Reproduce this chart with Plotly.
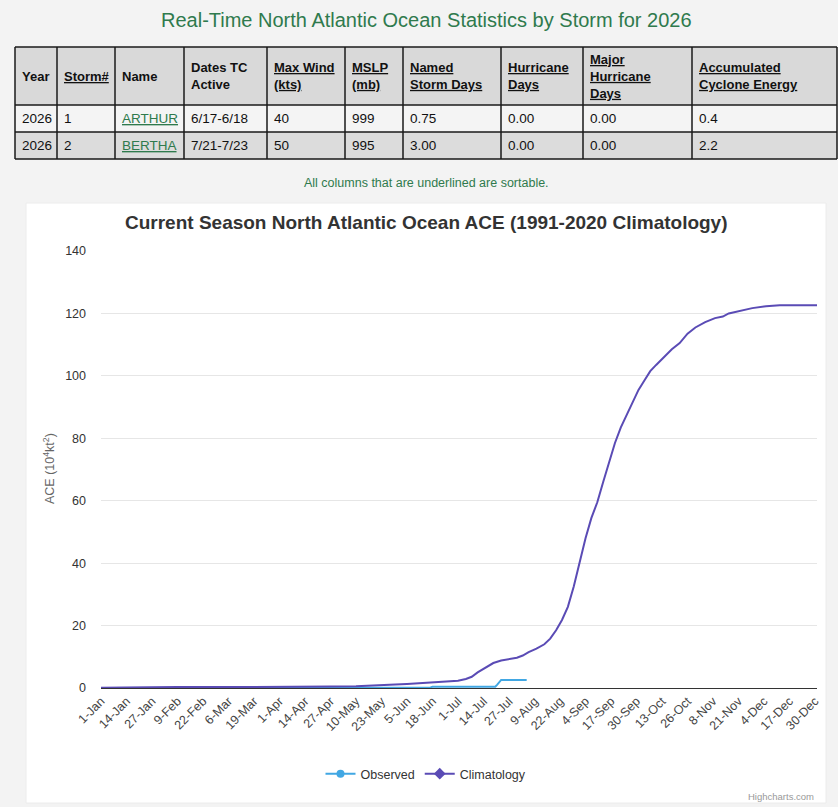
import pandas as pd
import plotly.graph_objects as go

# Taille de la page
W, H = 838, 807


def fx(px):
    return px / W


def fy(py):
    return 1 - py / H


# Catégories de l'axe x (année bissextile, 366 jours)
day_labels = list(pd.date_range("2024-01-01", "2024-12-31").strftime("%-d-%b"))
tick_labels = day_labels[::13]

# Climatologie 1991-2020 (ACE cumulé)
clim_dates = ["1-Jan", "14-Jan", "27-Jan", "9-Feb", "6-Mar", "1-Apr", "14-Apr", "20-Apr",
              "27-Apr", "10-May", "23-May", "30-May", "5-Jun", "12-Jun", "18-Jun", "25-Jun",
              "1-Jul", "5-Jul", "8-Jul", "11-Jul", "15-Jul", "19-Jul", "23-Jul", "27-Jul",
              "31-Jul", "3-Aug", "6-Aug", "10-Aug", "14-Aug", "17-Aug", "20-Aug", "23-Aug",
              "26-Aug", "29-Aug", "1-Sep", "4-Sep", "7-Sep", "10-Sep", "13-Sep", "16-Sep",
              "19-Sep", "22-Sep", "25-Sep", "28-Sep", "1-Oct", "4-Oct", "7-Oct", "10-Oct",
              "14-Oct", "18-Oct", "22-Oct", "26-Oct", "30-Oct", "4-Nov", "9-Nov", "13-Nov",
              "16-Nov", "21-Nov", "28-Nov", "5-Dec", "12-Dec", "31-Dec"]
clim_ace = [0.1, 0.2, 0.3, 0.3, 0.3, 0.3, 0.3, 0.4,
            0.5, 0.6, 0.8, 1.1, 1.3, 1.6, 1.8, 2.1,
            2.3, 2.9, 3.6, 5.0, 6.4, 8.0, 8.8, 9.3,
            9.7, 10.4, 11.5, 12.6, 14.0, 15.8, 18.5, 21.8,
            26.0, 32.5, 40.0, 48.0, 54.5, 59.5, 66.0, 72.5,
            78.5, 83.5, 87.5, 91.0, 95.5, 98.5, 101.5, 103.5,
            106.0, 108.5, 110.5, 113.5, 115.5, 117.2, 118.5, 119.0,
            120.0, 120.8, 121.7, 122.3, 122.6, 122.6]

# Observé 2026
obs_dates = ["1-Jan", "16-Jun", "17-Jun", "18-Jun", "20-Jul", "21-Jul", "22-Jul", "23-Jul", "5-Aug"]
obs_ace = [0.0, 0.0, 0.2, 0.4, 0.4, 1.1, 1.9, 2.6, 2.6]

# Tableau des tempêtes
headers = ["Year", "Storm#", "Name", "Dates TC<br>Active", "Max Wind<br>(kts)", "MSLP<br>(mb)",
           "Named<br>Storm Days", "Hurricane<br>Days", "Major<br>Hurricane<br>Days",
           "Accumulated<br>Cyclone Energy"]
sortable = [False, True, False, False, True, True, True, True, True, True]
years = ["2026", "2026"]
storm_nums = ["1", "2"]
names = ["ARTHUR", "BERTHA"]
dates_active = ["6/17-6/18", "7/21-7/23"]
max_wind = ["40", "50"]
mslp = ["999", "995"]
named_storm_days = ["0.75", "3.00"]
hurricane_days = ["0.00", "0.00"]
major_hurricane_days = ["0.00", "0.00"]
ace_storm = ["0.4", "2.2"]

col_x = [15, 57, 115, 184, 267, 345, 403, 501, 583, 692, 837]
row_y = [47, 105, 132, 159]
row_fill = ["#d9d9d9", "#f4f4f4", "#dcdcdc"]

green = "#2f7a4d"
obs_color = "#41a7e3"
clim_color = "#5a4bb5"
font = "Liberation Sans, Arial, sans-serif"

fig = go.Figure()
fig.add_trace(go.Scatter(x=obs_dates, y=obs_ace, mode="lines", name="Observed",
                         line=dict(color=obs_color, width=2), showlegend=False))
fig.add_trace(go.Scatter(x=clim_dates, y=clim_ace, mode="lines", name="Climatology",
                         line=dict(color=clim_color, width=2), showlegend=False))
# entrées de légende avec symboles
fig.add_trace(go.Scatter(x=[None], y=[None], mode="lines+markers", name="Observed",
                         line=dict(color=obs_color, width=2),
                         marker=dict(symbol="circle", size=8, color=obs_color)))
fig.add_trace(go.Scatter(x=[None], y=[None], mode="lines+markers", name="Climatology",
                         line=dict(color=clim_color, width=2),
                         marker=dict(symbol="diamond", size=9, color=clim_color)))

shapes = []
# carte blanche du graphique
shapes.append(dict(type="rect", xref="paper", yref="paper", x0=fx(26), x1=fx(826), y0=fy(803), y1=fy(203),
                   fillcolor="white", line=dict(color="#ececec", width=1), layer="below"))
# fonds des lignes du tableau
for i, c in enumerate(row_fill):
    shapes.append(dict(type="rect", xref="paper", yref="paper", x0=fx(col_x[0]), x1=fx(col_x[-1]),
                       y0=fy(row_y[i + 1]), y1=fy(row_y[i]), fillcolor=c, line=dict(width=0)))
for yy in row_y:
    shapes.append(dict(type="line", xref="paper", yref="paper", x0=fx(col_x[0]), x1=fx(col_x[-1]),
                       y0=fy(yy), y1=fy(yy), line=dict(color="#1a1a1a", width=1.5)))
for xx in col_x:
    shapes.append(dict(type="line", xref="paper", yref="paper", x0=fx(xx), x1=fx(xx),
                       y0=fy(row_y[0]), y1=fy(row_y[-1]), line=dict(color="#1a1a1a", width=1.5)))

annotations = []
annotations.append(dict(text="Real-Time North Atlantic Ocean Statistics by Storm for 2026",
                        x=fx(426), y=fy(20), xref="paper", yref="paper", showarrow=False,
                        xanchor="center", yanchor="middle",
                        font=dict(family=font, size=20, color=green)))
for j, h in enumerate(headers):
    txt = "<br>".join(f"<u>{p}</u>" for p in h.split("<br>")) if sortable[j] else h
    annotations.append(dict(text=f"<b>{txt}</b>", x=fx(col_x[j] + 5), y=fy((row_y[0] + row_y[1]) / 2),
                            xref="paper", yref="paper", showarrow=False, xanchor="left",
                            yanchor="middle", align="left",
                            font=dict(family=font, size=13, color="#111")))
columns = [years, storm_nums, names, dates_active, max_wind, mslp, named_storm_days,
           hurricane_days, major_hurricane_days, ace_storm]
for r in range(2):
    yc = (row_y[r + 1] + row_y[r + 2]) / 2
    for j, col in enumerate(columns):
        val = col[r]
        color = "#111"
        if j == 2:
            val = f"<u>{val}</u>"
            color = green
        annotations.append(dict(text=val, x=fx(col_x[j] + 5), y=fy(yc), xref="paper", yref="paper",
                                showarrow=False, xanchor="left", yanchor="middle",
                                font=dict(family=font, size=13.5, color=color)))
annotations.append(dict(text="All columns that are underlined are sortable.",
                        x=fx(426), y=fy(183), xref="paper", yref="paper", showarrow=False,
                        xanchor="center", yanchor="middle",
                        font=dict(family=font, size=12.5, color=green)))
annotations.append(dict(text="<b>Current Season North Atlantic Ocean ACE (1991-2020 Climatology)</b>",
                        x=fx(426), y=fy(222), xref="paper", yref="paper", showarrow=False,
                        xanchor="center", yanchor="middle",
                        font=dict(family=font, size=19, color="#333333")))
annotations.append(dict(text="ACE (10<sup>4</sup>kt<sup>2</sup>)", textangle=-90,
                        x=fx(49), y=fy(469), xref="paper", yref="paper", showarrow=False,
                        xanchor="center", yanchor="middle",
                        font=dict(family=font, size=12.5, color="#666666")))
annotations.append(dict(text="Highcharts.com", x=fx(816), y=fy(796), xref="paper", yref="paper",
                        showarrow=False, xanchor="right", yanchor="middle",
                        font=dict(family=font, size=9.5, color="#999999")))

fig.update_layout(
    width=W, height=H,
    margin=dict(l=0, r=0, t=0, b=0),
    paper_bgcolor="#f3f3f3",
    plot_bgcolor="rgba(0,0,0,0)",
    font=dict(family=font, color="#333"),
    shapes=shapes,
    annotations=annotations,
    legend=dict(orientation="h", x=fx(426), xanchor="center", y=fy(774), yanchor="middle",
                font=dict(family=font, size=12.5, color="#333"), bgcolor="rgba(0,0,0,0)"),
    xaxis=dict(domain=[fx(101), fx(817)], type="category", categoryorder="array",
               categoryarray=day_labels, range=[0, 365], tickmode="array",
               tickvals=tick_labels, ticktext=tick_labels, tickangle=-45,
               showgrid=False, showline=True, linecolor="#333", linewidth=1, ticks="",
               tickfont=dict(size=12.5, color="#444"), automargin=False, fixedrange=True),
    yaxis=dict(domain=[fy(688), fy(251)], range=[0, 140], dtick=20, showgrid=True,
               gridcolor="#e6e6e6", zeroline=False, ticks="", ticklabelstandoff=14,
               tickfont=dict(size=12.5, color="#333"), automargin=False, fixedrange=True),
)

# la page HTML a une marge de 8px par défaut : on la retire
fig.write_html("out.html", config={"displayModeBar": False},
               post_script="document.body.style.margin='0';document.body.style.background='#f3f3f3';")
